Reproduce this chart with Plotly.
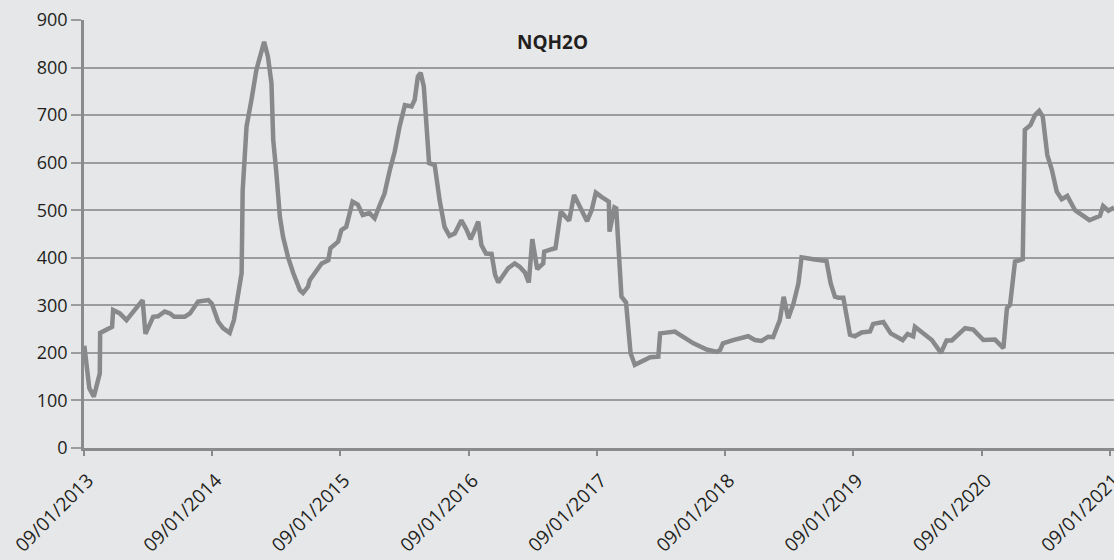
import plotly.graph_objects as go

dates = [
    "2013-09-02", "2013-09-16", "2013-09-29", "2013-10-16", "2013-10-17", "2013-11-04", "2013-11-20",
    "2013-11-23", "2013-12-12", "2013-12-31", "2014-02-15", "2014-02-23", "2014-03-17", "2014-03-31",
    "2014-04-19", "2014-05-04", "2014-05-16", "2014-06-15", "2014-06-30", "2014-07-23", "2014-08-21",
    "2014-08-31", "2014-09-18", "2014-10-02", "2014-10-21", "2014-11-02", "2014-11-14", "2014-11-24",
    "2014-11-27", "2014-12-08", "2014-12-22", "2015-01-05", "2015-01-27", "2015-02-07", "2015-02-17",
    "2015-02-22", "2015-03-03", "2015-03-13", "2015-03-22", "2015-04-05", "2015-04-20", "2015-05-09",
    "2015-05-18", "2015-06-01", "2015-06-06", "2015-06-25", "2015-07-10", "2015-07-29", "2015-08-04",
    "2015-08-26", "2015-09-04", "2015-09-18", "2015-10-06", "2015-10-21", "2015-11-04", "2015-11-23",
    "2015-12-08", "2015-12-22", "2016-01-05", "2016-01-20", "2016-02-03", "2016-02-17", "2016-03-03",
    "2016-03-22", "2016-03-31", "2016-04-09", "2016-04-17", "2016-04-26", "2016-05-03", "2016-05-11",
    "2016-05-27", "2016-06-10", "2016-06-24", "2016-07-08", "2016-07-23", "2016-08-11", "2016-08-25",
    "2016-09-06", "2016-09-16", "2016-09-28", "2016-10-07", "2016-10-20", "2016-11-05", "2016-11-15",
    "2016-11-24", "2016-12-08", "2016-12-22", "2017-01-10", "2017-01-24", "2017-02-08", "2017-02-19",
    "2017-03-01", "2017-03-15", "2017-04-01", "2017-04-04", "2017-04-25", "2017-05-06", "2017-05-21",
    "2017-06-14", "2017-06-28", "2017-07-20", "2017-08-04", "2017-08-17", "2017-08-29", "2017-09-14",
    "2017-10-05", "2017-10-07", "2017-10-21", "2017-10-26", "2017-11-03", "2017-11-10", "2017-11-23",
    "2017-11-29", "2017-12-06", "2017-12-18", "2018-01-31", "2018-02-23", "2018-02-28", "2018-04-11",
    "2018-04-26", "2018-05-15", "2018-06-03", "2018-07-11", "2018-08-09", "2018-08-18", "2018-08-26",
    "2018-09-24", "2018-11-06", "2018-11-25", "2018-12-14", "2019-01-02", "2019-01-16", "2019-02-04",
    "2019-02-15", "2019-02-28", "2019-03-15", "2019-03-29", "2019-04-07", "2019-05-10", "2019-06-17",
    "2019-06-29", "2019-07-11", "2019-07-21", "2019-08-04", "2019-08-23", "2019-09-06", "2019-09-25",
    "2019-10-19", "2019-10-28", "2019-11-26", "2019-12-17", "2020-01-20", "2020-02-03", "2020-02-19",
    "2020-02-24", "2020-04-12", "2020-05-08", "2020-05-24", "2020-06-08", "2020-07-16", "2020-08-08",
    "2020-09-06", "2020-10-09", "2020-11-02", "2020-11-12", "2020-11-21", "2020-12-05", "2020-12-27",
    "2021-01-02", "2021-01-18", "2021-01-31", "2021-02-12", "2021-02-22", "2021-03-07", "2021-03-20",
    "2021-04-03", "2021-04-17", "2021-05-03", "2021-05-25", "2021-07-05", "2021-08-04", "2021-08-13",
    "2021-08-28", "2021-09-13",
]

values = [
    215, 126, 108, 157, 242, 248, 255,
    290, 283, 269, 311, 240, 276, 277,
    287, 283, 276, 276, 283, 308, 311,
    304, 266, 252, 242, 269, 326, 368,
    542, 676, 732, 795, 854, 823, 767,
    648, 578, 486, 444, 402, 368, 332,
    326, 339, 353, 371, 388, 395, 420,
    434, 458, 465, 518, 512, 490, 494,
    483, 510, 535, 584, 623, 676, 721,
    718, 732, 781, 789, 760, 676, 599,
    595, 521, 465, 446, 451, 479, 460,
    439, 455, 476, 427, 409, 408, 364,
    348, 362, 378, 388, 381, 369, 348,
    439, 376, 388, 413, 418, 420, 497,
    478, 532, 497, 477, 500, 537, 528,
    518, 455, 506, 504, 402, 318, 306,
    241, 199, 175, 191, 192, 241, 245,
    238, 231, 220, 207, 202, 206, 220,
    227, 235, 227, 225, 234, 233, 269,
    318, 273, 304, 346, 401, 397, 393,
    346, 318, 316, 316, 238, 235, 243,
    245, 261, 265, 241, 227, 240, 235,
    255, 227, 200, 226, 226, 252, 249,
    227, 228, 210, 294, 301, 392, 397,
    669, 679, 700, 709, 697, 616, 585,
    539, 523, 530, 500, 479, 488, 509,
    499, 506,
]

tick_dates = ["2013-09-01", "2014-09-01", "2015-09-01", "2016-09-01", "2017-09-01",
              "2018-09-01", "2019-09-01", "2020-09-01", "2021-09-01"]
tick_labels = ["09/01/2013", "09/01/2014", "09/01/2015", "09/01/2016", "09/01/2017",
               "09/01/2018", "09/01/2019", "09/01/2020", "09/01/2021"]
title_text = "NQH2O"

BG = "#e6e7e9"
GRID = "#9b9c9e"
AXIS = "#8a8b8d"
LINE = "#88898b"
TEXT = "#231f20"
FONT = "Open Sans"

fig = go.Figure()
fig.add_trace(go.Scatter(
    x=dates, y=values, mode="lines",
    line=dict(color=LINE, width=4.5),
    showlegend=False, hoverinfo="skip",
))

fig.update_layout(
    width=1114, height=560,
    margin=dict(l=84, r=0, t=20, b=112, autoexpand=False),
    paper_bgcolor=BG, plot_bgcolor=BG,
    font=dict(family=FONT, size=18, color=TEXT),
    showlegend=False,
)

fig.update_xaxes(
    type="date",
    range=["2013-09-01", "2021-09-13"],
    tickmode="array", tickvals=tick_dates, ticktext=tick_labels,
    tickangle=-45,
    ticks="outside", ticklen=5, tickwidth=1.5, tickcolor=AXIS,
    showline=True, linecolor=AXIS, linewidth=2.5,
    showgrid=False, zeroline=False, automargin=False,
    ticklabeloverflow="allow",
    ticklabelstandoff=6, ticklabelshift=4,
    tickfont=dict(family=FONT, size=19, color=TEXT),
)

fig.update_yaxes(
    range=[0, 900], dtick=100, tick0=0,
    ticks="outside", ticklen=10, tickwidth=1.5, tickcolor=GRID,
    showline=True, linecolor=AXIS, linewidth=2.5,
    showgrid=True, gridcolor=GRID, gridwidth=1.5,
    zeroline=False, automargin=False,
    tickfont=dict(family=FONT, size=18, color=TEXT),
)

fig.add_annotation(
    text="<b>" + title_text + "</b>",
    xref="paper", yref="paper", x=0.455, y=0.949,
    xanchor="center", yanchor="middle", showarrow=False,
    font=dict(family=FONT, size=19, color=TEXT),
)

fig.write_html(
    "out.html",
    config={"displayModeBar": False},
    post_script="document.body.style.margin='0';document.body.style.overflow='hidden';"
                "document.body.style.background='" + BG + "';",
)
